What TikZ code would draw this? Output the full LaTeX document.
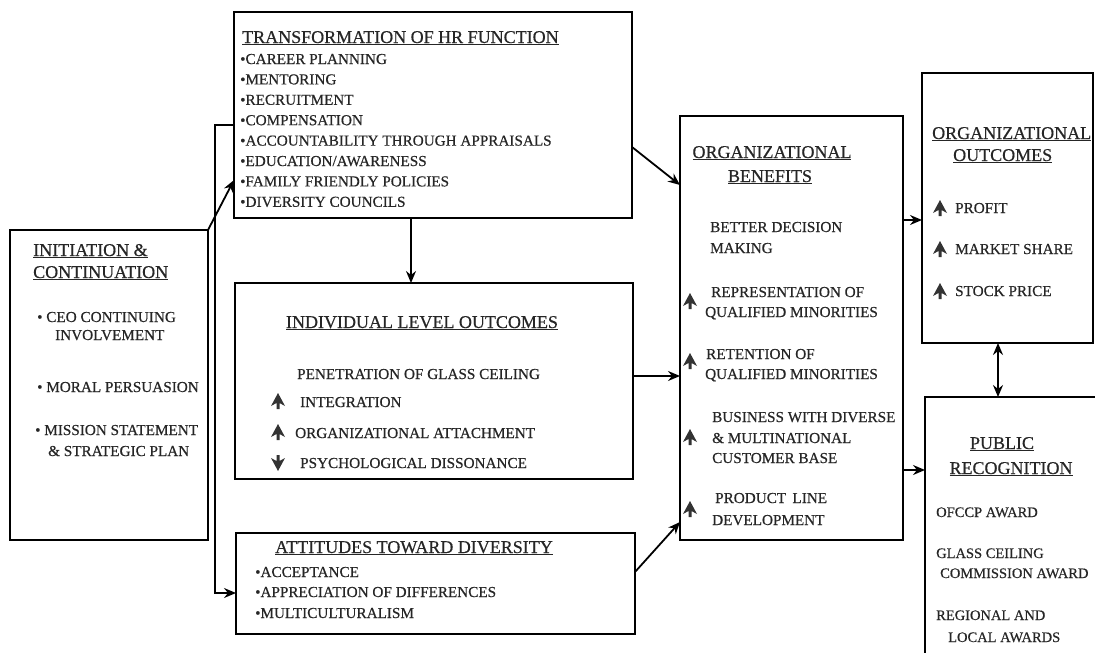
\documentclass[tikz,border=0pt]{standalone}
\usepackage{fontspec}
\setmainfont{Liberation Serif}[FakeBold=0.5]
\usetikzlibrary{arrows.meta,calc}
\begin{document}
\begin{tikzpicture}[x=1pt,y=-1pt,
  myt/.tip={Stealth[length=12pt,width=10pt,inset=4pt]},
  box/.style={draw, line width=1.3pt, inner sep=0pt, outer sep=0pt},
  conn/.style={line width=1.8pt, -myt},
  dconn/.style={line width=1.8pt, myt-myt},
  ttl/.style={font=\fontsize{18}{21}\selectfont, inner sep=0pt, anchor=base, text=black!85},
  ttlw/.style={font=\fontsize{18}{21}\selectfont, inner sep=0pt, anchor=base west, text=black!85},
  itm/.style={font=\fontsize{15.2}{18}\selectfont, inner sep=0pt, anchor=base west, text=black!85},
  sitm/.style={font=\fontsize{14.5}{17}\selectfont, inner sep=0pt, anchor=base west, text=black!85},
  uparr/.pic={\fill[black!80] (0,-8) -- (7,5) -- (1.5,2) -- (1.5,8) -- (-1.5,8) -- (-1.5,2) -- (-7,5) -- cycle;},
  dnarr/.pic={\fill[black!80] (0,8) -- (7,-5) -- (1.5,-2) -- (1.5,-8) -- (-1.5,-8) -- (-1.5,-2) -- (-7,-5) -- cycle;}
]
\useasboundingbox (0,0) rectangle (1095,653);
\clip (0,0) rectangle (1095,653);

% boxes
\node[box, minimum width=198pt, minimum height=310pt] (init) at (109,385) {};
\node[box, minimum width=398pt, minimum height=206pt] (trans) at (433,115) {};
\node[box, minimum width=398pt, minimum height=196pt] (indiv) at (434,381) {};
\node[box, minimum width=399pt, minimum height=101pt] (att) at (435.5,583.5) {};
\node[box, minimum width=223pt, minimum height=424pt] (benefits) at (791.5,328) {};
\node[box, minimum width=171pt, minimum height=270pt] (outcomes) at (1007.5,208) {};
\node[box, minimum width=175pt, minimum height=273pt] (public) at (1012.5,533.5) {};

% initiation
\node[ttlw] (initT1) at (33,256) {\underline{INITIATION \&}};
\node[ttlw] (initT2) at (33,278) {\underline{CONTINUATION}};
\node[itm] (initA) at (37,322) {• CEO CONTINUING};
\node[itm] (initB) at (55,340) {INVOLVEMENT};
\node[itm] (initC) at (37,392) {• MORAL PERSUASION};
\node[itm] (initD) at (35,435) {• MISSION STATEMENT};
\node[itm] (initE) at (48,456) {\& STRATEGIC PLAN};

% transformation
\node[ttlw] (trT) at (242,43) {\underline{TRANSFORMATION OF HR FUNCTION}};
\node[itm] (tr1) at (240,64) {•CAREER PLANNING};
\node[itm] (tr2) at (240,84.4) {•MENTORING};
\node[itm] (tr3) at (240,104.8) {•RECRUITMENT};
\node[itm] (tr4) at (240,125.2) {•COMPENSATION};
\node[itm] (tr5) at (240,145.6) {•ACCOUNTABILITY THROUGH APPRAISALS};
\node[itm] (tr6) at (240,166) {•EDUCATION/AWARENESS};
\node[itm] (tr7) at (240,186.4) {•FAMILY FRIENDLY POLICIES};
\node[itm] (tr8) at (240,206.8) {•DIVERSITY COUNCILS};

% individual
\node[ttl] (inT) at (422,328) {\underline{INDIVIDUAL LEVEL OUTCOMES}};
\node[itm] (in1) at (297,379) {PENETRATION OF GLASS CEILING};
\node[itm] (in2) at (300,407) {INTEGRATION};
\node[itm] (in3) at (295,438) {ORGANIZATIONAL ATTACHMENT};
\node[itm] (in4) at (300,468) {PSYCHOLOGICAL DISSONANCE};
\pic at (278,401) {uparr};
\pic at (278,432) {uparr};
\pic at (278,463) {dnarr};

% attitudes
\node[ttl] (atT) at (414,553) {\underline{ATTITUDES TOWARD DIVERSITY}};
\node[itm] (at1) at (255,577) {•ACCEPTANCE};
\node[itm] (at2) at (255,597) {•APPRECIATION OF DIFFERENCES};
\node[itm] (at3) at (255,618) {•MULTICULTURALISM};

% organizational benefits
\node[ttl] (beT1) at (772,158) {\underline{ORGANIZATIONAL}};
\node[ttl] (beT2) at (770,182) {\underline{BENEFITS}};
\node[itm] (be1) at (710,232) {BETTER DECISION};
\node[itm] (be2) at (710,253) {MAKING};
\node[itm] (be3) at (711,297) {REPRESENTATION OF};
\node[itm] (be4) at (705,317) {QUALIFIED MINORITIES};
\node[itm] (be5) at (706,359) {RETENTION OF};
\node[itm] (be6) at (705,379) {QUALIFIED MINORITIES};
\node[itm] (be7) at (712,422) {BUSINESS WITH DIVERSE};
\node[itm] (be8) at (712,443) {\& MULTINATIONAL};
\node[itm] (be9) at (712,463) {CUSTOMER BASE};
\node[itm] (be10) at (715,503) {PRODUCT \,LINE};
\node[itm] (be11) at (712,525) {DEVELOPMENT};
\pic at (690,301) {uparr};
\pic at (690,361) {uparr};
\pic at (690,437) {uparr};
\pic at (690,509) {uparr};

% organizational outcomes
\node[ttlw] (ouT1) at (932,139) {\underline{ORGANIZATIONAL}};
\node[ttlw] (ouT2) at (953,161) {\underline{OUTCOMES}};
\node[itm] (ou1) at (955,213) {PROFIT};
\node[itm] (ou2) at (955,254) {MARKET SHARE};
\node[itm] (ou3) at (955,296) {STOCK PRICE};
\pic at (940,208) {uparr};
\pic at (940,249) {uparr};
\pic at (940,291) {uparr};

% public recognition
\node[ttl] (puT1) at (1002,449) {\underline{PUBLIC}};
\node[ttl] (puT2) at (1011,474) {\underline{RECOGNITION}};
\node[sitm] (pu1) at (936,517) {OFCCP AWARD};
\node[sitm] (pu2) at (936,558) {GLASS CEILING};
\node[sitm] (pu3) at (940,578) {COMMISSION AWARD};
\node[sitm] (pu4) at (936,620) {REGIONAL AND};
\node[sitm] (pu5) at (948,642) {LOCAL AWARDS};

% connectors
\draw[conn] (init.north east) -- ([yshift=-65pt]trans.west);
\draw[conn] ([yshift=-10pt]trans.west) -- ++(-19,0) |- ([yshift=-9.5pt]att.west);
\coordinate (tS) at ([xshift=-22pt]trans.south);
\draw[conn] (tS) -- (tS |- indiv.north);
\draw[conn] ([yshift=-32pt]trans.east) -- ([yshift=143pt]benefits.west);
\draw[conn] ([yshift=5pt]indiv.east) -- ([yshift=-48pt]benefits.west);
\draw[conn] ([yshift=11.5pt]att.east) -- ([yshift=-194pt]benefits.west);
\draw[conn] ([yshift=108pt]benefits.east) -- ([yshift=-12pt]outcomes.west);
\draw[conn] ([yshift=-142pt]benefits.east) -- ([yshift=63.5pt]public.west);
\coordinate (oS) at ([xshift=-9.5pt]outcomes.south);
\draw[dconn] (oS) -- (oS |- public.north);
\end{tikzpicture}
\end{document}
